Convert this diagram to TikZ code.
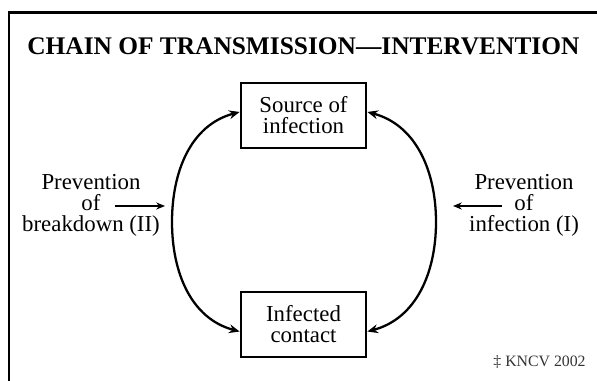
\documentclass[tikz,border=0pt]{standalone}
\usepackage{fontspec}
\setmainfont{Liberation Serif}
\usetikzlibrary{arrows.meta}

\begin{document}
\begin{tikzpicture}[x=0.02cm, y=0.02cm,
    stage/.style={draw, line width=1.6pt, minimum width=2.5cm, minimum height=1.3cm,
                  align=center, font=\fontsize{13}{12}\selectfont},
    label/.style={align=center, font=\fontsize{13}{12}\selectfont},
    loop/.style={line width=1.3pt, {Stealth[length=6pt, width=5pt]}-{Stealth[length=6pt, width=5pt]}},
    hint/.style={line width=0.6pt, -{Stealth[length=5pt, width=4pt]}}]
    \useasboundingbox (0, 0) rectangle (597, 381);

    % Frame (open to the right and at the bottom)
    \draw[line width=1.7pt] (597, 368) -- (9, 368) -- (9, 0);

    % Title
    \node[anchor=base west, inner sep=0pt, font=\fontsize{14.45}{15}\selectfont\bfseries] (title) at (27, 326)
        {CHAIN OF TRANSMISSION—INTERVENTION};

    % The two stages
    \node[stage] (src) at (303.5, 265.5) {Source of\\infection};
    \node[stage] (inf) at (303.5, 56.5) {Infected\\contact};

    % Cycle between them
    \coordinate (lmid) at (172, 159);
    \coordinate (rmid) at (436, 159);
    \draw[loop] ([yshift=2pt]src.west) to[out=195, in=90] (lmid)
        to[out=-90, in=165] ([yshift=-4pt]inf.west);
    \draw[loop] ([yshift=2pt]src.east) to[out=-15, in=90] (rmid)
        to[out=-90, in=15] ([yshift=-4pt]inf.east);

    % Interventions
    \node[label] (prevII) at (91, 176) {Prevention\\of\\breakdown (II)};
    \coordinate (arrIIa) at (115, 175);
    \coordinate (arrIIb) at (165, 175);
    \draw[hint] (arrIIa) -- (arrIIb);

    \node[label] (prevI) at (524, 176) {Prevention\\of\\infection (I)};
    \coordinate (arrIa) at (502, 175);
    \coordinate (arrIb) at (453, 175);
    \draw[hint] (arrIa) -- (arrIb);

    % Credit
    \node[anchor=base east, inner sep=0pt, font=\fontsize{9}{9}\selectfont, text=black!80] (credit) at (586, 14)
        {‡ KNCV 2002};
\end{tikzpicture}
\end{document}
